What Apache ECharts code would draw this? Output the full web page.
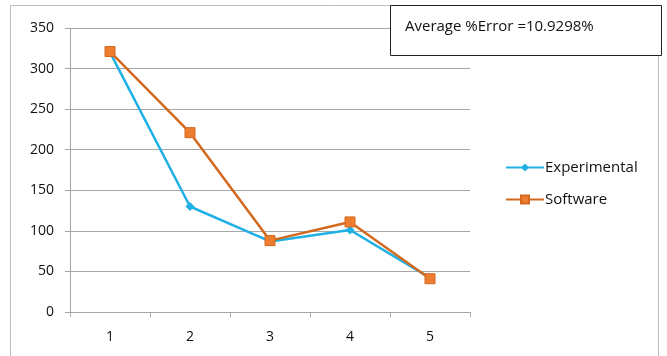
<!DOCTYPE html>
<html><head><meta charset="utf-8">
<script src="https://cdn.jsdelivr.net/npm/echarts@6/dist/echarts.min.js"></script>
<style>html,body{margin:0;padding:0;background:#fff}#c{width:667px;height:356px}</style>
</head><body><div id="c"></div>
<script>
const categories = ['1','2','3','4','5'];
const experimental = [320, 130, 87, 101, 42];
const software = [321, 221, 88, 111, 41];
const noteText = 'Average %Error =10.9298%';

const chart = echarts.init(document.getElementById('c'));
const font = '"Open Sans", "Liberation Sans", sans-serif';
chart.setOption({
  animation: false,
  backgroundColor: '#fff',
  grid: {left: 70, right: 197, top: 28, bottom: 44},
  xAxis: {
    type: 'category', data: categories, boundaryGap: true,
    axisLine: {lineStyle: {color: '#a6a6a6'}},
    axisTick: {show: true, alignWithLabel: false, length: 5, lineStyle: {color: '#a6a6a6'}},
    axisLabel: {color: '#111', fontSize: 14, fontFamily: font, margin: 18}
  },
  yAxis: {
    type: 'value', min: 0, max: 350, interval: 50,
    axisLine: {show: true, lineStyle: {color: '#a6a6a6'}},
    axisTick: {show: true, length: 5, lineStyle: {color: '#a6a6a6'}},
    splitLine: {lineStyle: {color: '#a6a6a6'}},
    axisLabel: {color: '#111', fontSize: 14, fontFamily: font, margin: 16}
  },
  legend: {
    orient: 'vertical', left: 500, top: 155, itemGap: 17,
    itemWidth: 38, itemHeight: 10,
    textStyle: {color: '#111', fontSize: 15, fontFamily: font, padding: [0,0,0,-4]},
    data: ['Experimental', 'Software']
  },
  series: [
    {name: 'Experimental', type: 'line', data: experimental,
     symbol: 'diamond', symbolSize: 9,
     lineStyle: {color: '#1fb1e6', width: 2.5},
     itemStyle: {color: '#1fb1e6'}},
    {name: 'Software', type: 'line', data: software,
     symbol: 'rect', symbolSize: 10,
     lineStyle: {color: '#d2691e', width: 2.5},
     itemStyle: {color: '#ed7d31', borderColor: '#d2691e', borderWidth: 1}}
  ],
  graphic: [
    {type: 'rect', shape: {x: 10.5, y: 5.5, width: 648, height: 360},
     style: {fill: null, stroke: '#bfbfbf', lineWidth: 1}, silent: true, z: -1},
    {type: 'rect', shape: {x: 390.5, y: 5.5, width: 271, height: 50},
     style: {fill: '#fff', stroke: '#222', lineWidth: 1}, z: 10},
    {type: 'text', left: 405, top: 19, z: 11,
     style: {text: noteText, fill: '#111', fontSize: 15, fontFamily: font}}
  ]
});
</script></body></html>
